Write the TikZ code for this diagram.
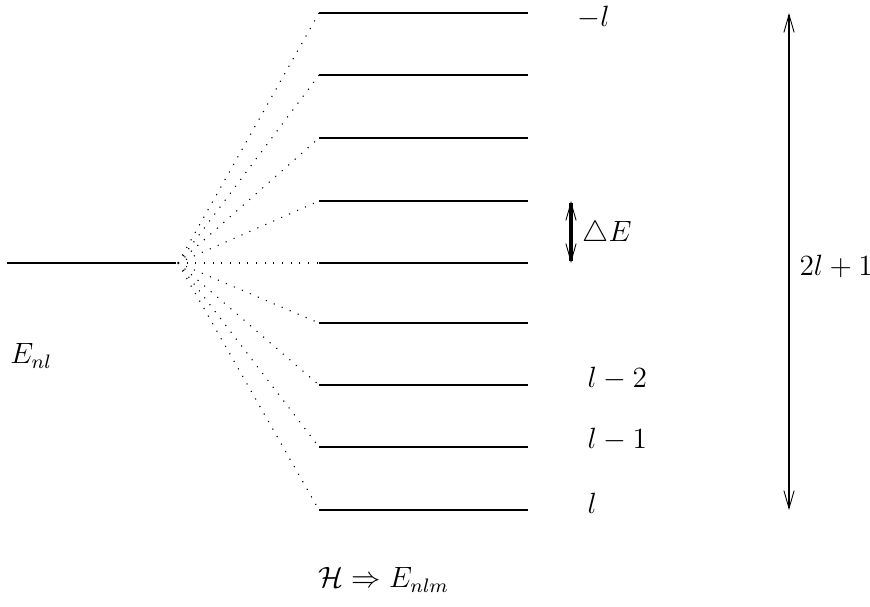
\documentclass[tikz,border=0pt]{standalone}
\usepackage{amsmath, amssymb}
\usepackage{tikz}
\usetikzlibrary{arrows.meta}

\begin{document}
\begin{tikzpicture}[x=0.45pt, y=-0.45pt, font=\large,
  >={Straight Barb[length=8pt, width=4.6pt, line width=0.4pt]},
  lvl/.style={line width=1.3pt},
  fan/.style={line width=0.5pt, dash pattern=on 0.5pt off 3.4pt},
  lab/.style={anchor=west, inner sep=0pt, scale=1.1}]
  \useasboundingbox (0,0) rectangle (870,606);

  % unperturbed level
  \coordinate (e0) at (7,263);
  \coordinate (e1) at (176,263);
  \coordinate (sp) at (178,263);
  \draw[lvl] (e0) -- (e1);

  % split levels
  \coordinate (a1) at (319,13);  \coordinate (b1) at (528,13);
  \coordinate (a2) at (319,75);  \coordinate (b2) at (528,75);
  \coordinate (a3) at (319,138); \coordinate (b3) at (528,138);
  \coordinate (a4) at (319,201); \coordinate (b4) at (528,201);
  \coordinate (a5) at (319,263); \coordinate (b5) at (528,263);
  \coordinate (a6) at (319,323); \coordinate (b6) at (528,323);
  \coordinate (a7) at (319,385); \coordinate (b7) at (528,385);
  \coordinate (a8) at (319,447); \coordinate (b8) at (528,447);
  \coordinate (a9) at (319,510); \coordinate (b9) at (528,510);

  \draw[lvl] (a1) -- (b1);
  \draw[lvl] (a2) -- (b2);
  \draw[lvl] (a3) -- (b3);
  \draw[lvl] (a4) -- (b4);
  \draw[lvl] (a5) -- (b5);
  \draw[lvl] (a6) -- (b6);
  \draw[lvl] (a7) -- (b7);
  \draw[lvl] (a8) -- (b8);
  \draw[lvl] (a9) -- (b9);

  \draw[fan] (sp) -- (a1);
  \draw[fan] (sp) -- (a2);
  \draw[fan] (sp) -- (a3);
  \draw[fan] (sp) -- (a4);
  \draw[fan] (sp) -- (a5);
  \draw[fan] (sp) -- (a6);
  \draw[fan] (sp) -- (a7);
  \draw[fan] (sp) -- (a8);
  \draw[fan] (sp) -- (a9);

  % spacing and multiplicity
  \coordinate (d0) at (571,201);
  \coordinate (d1) at (571,263);
  \draw[<->, line width=1.5pt] (d0) -- (d1);
  \coordinate (m0) at (789,13);
  \coordinate (m1) at (789,510);
  \draw[<->, line width=1.1pt] (m0) -- (m1);

  % labels
  \node[lab] (top)  at (577,18)  {$-l$};
  \node[lab] (dE)   at (582,234) {$\triangle E$};
  \node[lab] (deg)  at (799,266) {$2l+1$};
  \node[lab] (lm2)  at (587,379) {$l-2$};
  \node[lab] (lm1)  at (587,440) {$l-1$};
  \node[lab] (lm0)  at (587,503) {$l$};
  \node[lab] (enl)  at (10,356)  {$E_{nl}$};
  \node[lab] (ham)  at (318,580) {$\mathcal{H} \Rightarrow E_{nlm}$};
\end{tikzpicture}
\end{document}
